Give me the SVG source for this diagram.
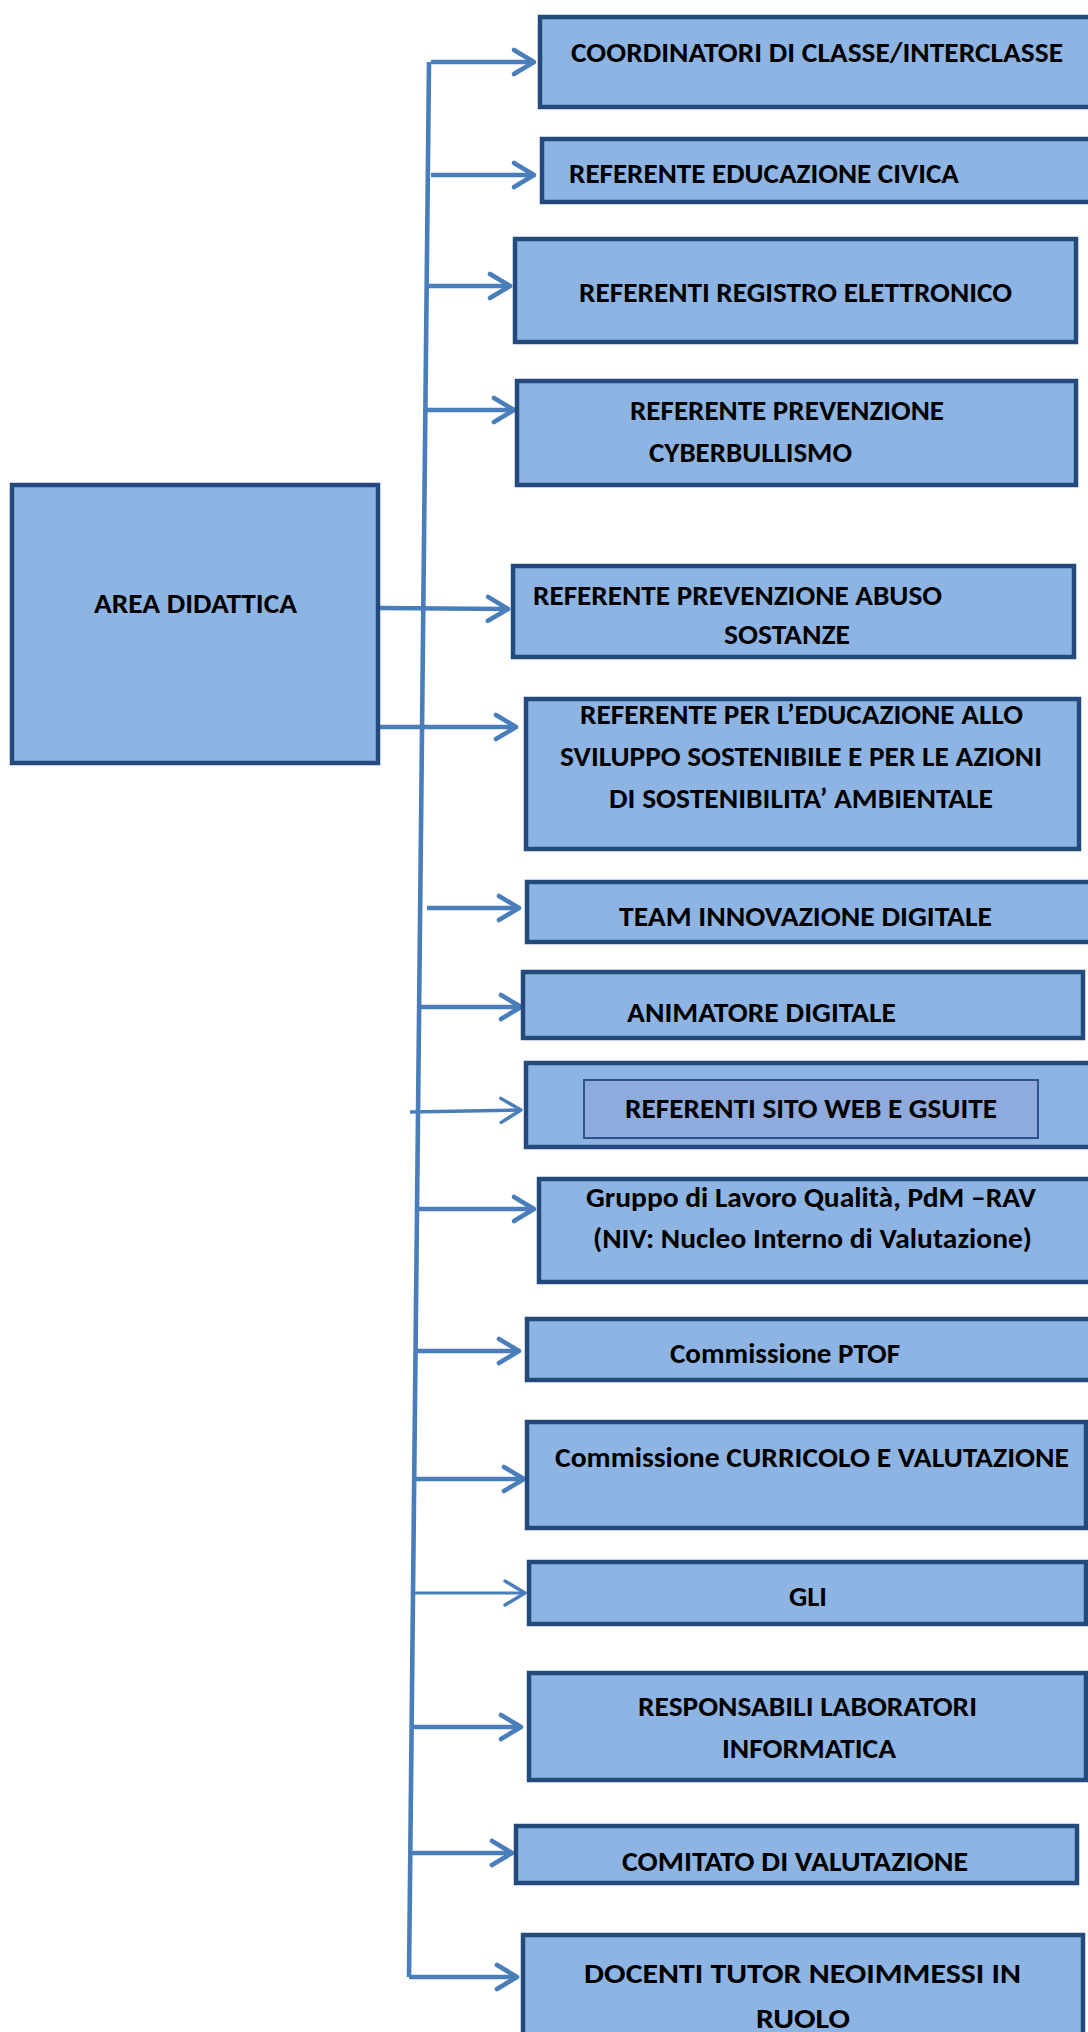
<svg xmlns="http://www.w3.org/2000/svg" width="1088" height="2032" viewBox="0 0 1088 2032">
  <style>
    .box { fill: #8EB4E3; stroke: #244A7D; stroke-width: 4.5; }
    .inner { fill: #8FAADC; stroke: #2F528F; stroke-width: 2; }
    .lbl { font-family: Carlito, Calibri, "Liberation Sans", sans-serif; font-weight: bold; font-size: 29px; fill: #000; }
    .wire { fill: none; stroke: #4A7EBB; stroke-width: 4.6; stroke-linecap: butt; }
    .wire.thin { stroke-width: 2.8; }
    .wire.mid { stroke-width: 3.4; }
  </style>
  <defs>
    <marker id="head" viewBox="-26 -16 30 32" refX="0" refY="0" markerWidth="30" markerHeight="32" markerUnits="userSpaceOnUse" orient="auto">
      <path d="M-20 -12 L0 0 L-20 12" fill="none" stroke="#4A7EBB" stroke-width="4.6" stroke-linecap="round" stroke-linejoin="round"/>
    </marker>
    <marker id="headThin" viewBox="-26 -16 30 32" refX="0" refY="0" markerWidth="30" markerHeight="32" markerUnits="userSpaceOnUse" orient="auto">
      <path d="M-20 -12 L0 0 L-20 12" fill="none" stroke="#4A7EBB" stroke-width="3.4" stroke-linecap="round" stroke-linejoin="round"/>
    </marker>
  </defs>

  <rect width="1088" height="2032" fill="#FFFFFF"/>

  <!-- connectors -->
  <g id="connectors">
    <path class="wire" d="M429 62 L409 1977"/>
    <path class="wire" d="M431 62 L534 62" marker-end="url(#head)"/>
    <path class="wire" d="M431 175 L534 175" marker-end="url(#head)"/>
    <path class="wire" d="M426 286 L510 286" marker-end="url(#head)"/>
    <path class="wire" d="M425 410 L514 410" marker-end="url(#head)"/>
    <path class="wire" d="M380 608 L508 609" marker-end="url(#head)"/>
    <path class="wire" d="M380 727 L516 727" marker-end="url(#head)"/>
    <path class="wire" d="M427 908 L519 908" marker-end="url(#head)"/>
    <path class="wire" d="M420 1007 L521 1007" marker-end="url(#head)"/>
    <path class="wire mid" d="M410 1112 L521 1110" marker-end="url(#headThin)"/>
    <path class="wire" d="M417 1209 L534 1209" marker-end="url(#head)"/>
    <path class="wire" d="M417 1351 L519 1351" marker-end="url(#head)"/>
    <path class="wire" d="M416 1479 L524 1479" marker-end="url(#head)"/>
    <path class="wire thin" d="M415 1593 L525 1593" marker-end="url(#headThin)"/>
    <path class="wire" d="M412 1727 L521 1727" marker-end="url(#head)"/>
    <path class="wire" d="M411 1853 L512 1853" marker-end="url(#head)"/>
    <path class="wire" d="M409 1977 L517 1977" marker-end="url(#head)"/>
  </g>

  <!-- root -->
  <g id="area-didattica">
    <rect class="box" x="12" y="485" width="366" height="278"/>
    <text class="lbl" x="94" y="613" textLength="203" lengthAdjust="spacingAndGlyphs">AREA DIDATTICA</text>
  </g>

  <!-- children -->
  <g id="coordinatori">
    <rect class="box" x="540" y="17" width="560" height="90"/>
    <text class="lbl" x="571" y="62" textLength="492" lengthAdjust="spacingAndGlyphs">COORDINATORI DI CLASSE/INTERCLASSE</text>
  </g>
  <g id="educazione-civica">
    <rect class="box" x="542" y="139" width="560" height="63"/>
    <text class="lbl" x="569" y="183" textLength="390" lengthAdjust="spacingAndGlyphs">REFERENTE EDUCAZIONE CIVICA</text>
  </g>
  <g id="registro-elettronico">
    <rect class="box" x="515" y="239" width="561" height="103"/>
    <text class="lbl" x="579" y="302" textLength="433" lengthAdjust="spacingAndGlyphs">REFERENTI REGISTRO ELETTRONICO</text>
  </g>
  <g id="cyberbullismo">
    <rect class="box" x="517" y="381" width="559" height="104"/>
    <text class="lbl" x="630" y="420" textLength="314" lengthAdjust="spacingAndGlyphs">REFERENTE PREVENZIONE</text>
    <text class="lbl" x="649" y="462" textLength="203" lengthAdjust="spacingAndGlyphs">CYBERBULLISMO</text>
  </g>
  <g id="abuso-sostanze">
    <rect class="box" x="513" y="566" width="561" height="91"/>
    <text class="lbl" x="533" y="605" textLength="409" lengthAdjust="spacingAndGlyphs">REFERENTE PREVENZIONE ABUSO</text>
    <text class="lbl" x="724" y="644" textLength="126" lengthAdjust="spacingAndGlyphs">SOSTANZE</text>
  </g>
  <g id="sviluppo-sostenibile">
    <rect class="box" x="526" y="699" width="553" height="150"/>
    <text class="lbl" x="580" y="724" textLength="443" lengthAdjust="spacingAndGlyphs">REFERENTE PER L’EDUCAZIONE ALLO</text>
    <text class="lbl" x="560" y="766" textLength="482" lengthAdjust="spacingAndGlyphs">SVILUPPO SOSTENIBILE E PER LE AZIONI</text>
    <text class="lbl" x="609" y="808" textLength="384" lengthAdjust="spacingAndGlyphs">DI SOSTENIBILITA’ AMBIENTALE</text>
  </g>
  <g id="team-innovazione">
    <rect class="box" x="527" y="882" width="570" height="60"/>
    <text class="lbl" x="619" y="926" textLength="373" lengthAdjust="spacingAndGlyphs">TEAM INNOVAZIONE DIGITALE</text>
  </g>
  <g id="animatore-digitale">
    <rect class="box" x="523" y="972" width="560" height="66"/>
    <text class="lbl" x="627" y="1022" textLength="269" lengthAdjust="spacingAndGlyphs">ANIMATORE DIGITALE</text>
  </g>
  <g id="sito-web">
    <rect class="box" x="526" y="1063" width="570" height="84"/>
    <rect class="inner" x="584" y="1080" width="454" height="58"/>
    <text class="lbl" x="625" y="1118" textLength="372" lengthAdjust="spacingAndGlyphs">REFERENTI SITO WEB E GSUITE</text>
  </g>
  <g id="niv">
    <rect class="box" x="539" y="1179" width="560" height="103"/>
    <text class="lbl" x="586" y="1207" textLength="450" lengthAdjust="spacingAndGlyphs">Gruppo di Lavoro Qualità, PdM –RAV</text>
    <text class="lbl" x="593" y="1248" textLength="439" lengthAdjust="spacingAndGlyphs">(NIV: Nucleo Interno di Valutazione)</text>
  </g>
  <g id="ptof">
    <rect class="box" x="527" y="1319" width="570" height="61"/>
    <text class="lbl" x="670" y="1363" textLength="230" lengthAdjust="spacingAndGlyphs">Commissione PTOF</text>
  </g>
  <g id="curricolo">
    <rect class="box" x="527" y="1422" width="559" height="106"/>
    <text class="lbl" x="555" y="1467" textLength="514" lengthAdjust="spacingAndGlyphs">Commissione CURRICOLO E VALUTAZIONE</text>
  </g>
  <g id="gli">
    <rect class="box" x="529" y="1562" width="557" height="62"/>
    <text class="lbl" x="789" y="1606" textLength="38" lengthAdjust="spacingAndGlyphs">GLI</text>
  </g>
  <g id="laboratori">
    <rect class="box" x="529" y="1673" width="557" height="107"/>
    <text class="lbl" x="638" y="1716" textLength="339" lengthAdjust="spacingAndGlyphs">RESPONSABILI LABORATORI</text>
    <text class="lbl" x="722" y="1758" textLength="174" lengthAdjust="spacingAndGlyphs">INFORMATICA</text>
  </g>
  <g id="comitato">
    <rect class="box" x="516" y="1826" width="561" height="57"/>
    <text class="lbl" x="622" y="1871" textLength="346" lengthAdjust="spacingAndGlyphs">COMITATO DI VALUTAZIONE</text>
  </g>
  <g id="tutor">
    <rect class="box" x="523" y="1935" width="560" height="110"/>
    <text class="lbl" x="584" y="1983" textLength="437" lengthAdjust="spacingAndGlyphs">DOCENTI TUTOR NEOIMMESSI IN</text>
    <text class="lbl" x="756" y="2028" textLength="94" lengthAdjust="spacingAndGlyphs">RUOLO</text>
  </g>
</svg>
